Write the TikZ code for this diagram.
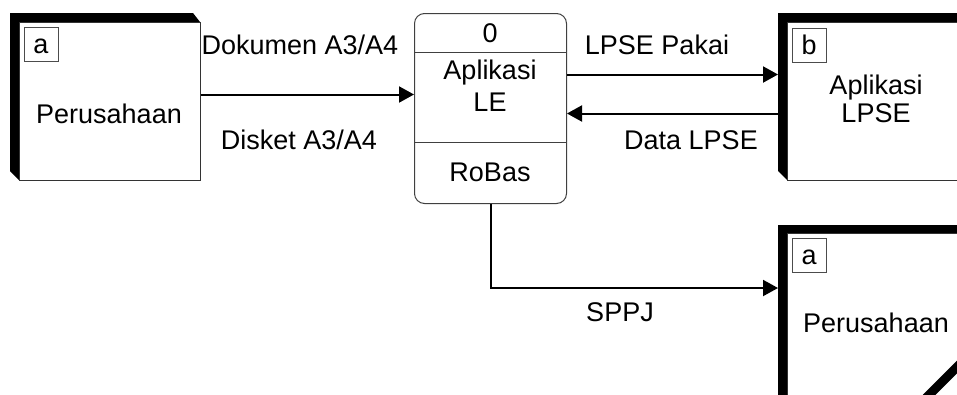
\documentclass[tikz,border=0pt]{standalone}
\usepackage{fontspec}
\setmainfont{Liberation Sans}
\usetikzlibrary{arrows.meta}
\begin{document}
\begin{tikzpicture}[x=1pt,y=-1pt,
  txt/.style={font=\fontsize{27}{30}\selectfont, inner sep=0pt, anchor=base},
  flow/.style={line width=2pt, -{Triangle[length=15pt,width=16pt]}},
  entbox/.style={draw=black!80, line width=1pt, anchor=north west, inner sep=0pt},
  tagbox/.style={draw=black!70, line width=1pt, anchor=north west, minimum width=34pt, minimum height=34pt, inner sep=0pt},
  procbox/.style={draw=black!75, line width=1pt, rounded corners=10pt, anchor=north west, minimum width=152pt, minimum height=190pt, inner sep=0pt},
  divider/.style={draw=black!75, line width=1pt}]
\useasboundingbox (0,0) rectangle (957,394);

% entity a (left)
\fill (10,13) -- (193,13) -- (200,22) -- (19,22) -- (19,180) -- (10,171) -- cycle;
\node[entbox, minimum width=181pt, minimum height=158pt] (ea) at (19,22) {};
\node[tagbox] (ta) at (24,27) {};
\node[txt] (tal) at (41,53) {a};
\node[txt] (eal) at (109,123) {Perusahaan};

% entity b (right top)
\fill (778,13) -- (960,13) -- (960,22) -- (787,22) -- (787,180) -- (778,171) -- cycle;
\node[entbox, minimum width=180pt, minimum height=158pt] (eb) at (787,22) {};
\node[tagbox] (tb) at (792,28) {};
\node[txt] (tbl) at (809,54) {b};
\node[txt] (ebl1) at (876,94.5) {Aplikasi};
\node[txt] (ebl2) at (876,122.5) {LPSE};

% entity a (duplicate, right bottom)
\fill (778,225) -- (960,225) -- (960,233) -- (787,233) -- (787,400) -- (778,400) -- cycle;
\node[entbox, minimum width=180pt, minimum height=170pt] (ec) at (787,233) {};
\node[tagbox] (tc) at (792,238) {};
\node[txt] (tcl) at (809,264) {a};
\node[txt] (ecl) at (876,332.5) {Perusahaan};
\draw[line width=9pt] (926,398) -- (962,362);

% process
\node[procbox] (p) at (414,13) {};
\draw[divider] (p.west |- 0,52) -- (p.east |- 0,52);
\draw[divider] (p.west |- 0,142) -- (p.east |- 0,142);
\node[txt] (pn) at (490,42.5) {0};
\node[txt] (pl1) at (490,79.5) {Aplikasi};
\node[txt] (pl2) at (490,111.5) {LE};
\node[txt] (pl3) at (490,181.5) {RoBas};

% flows
\draw[flow] ([yshift=7pt]ea.east) -- ([yshift=7pt]ea.east -| p.west);
\draw[flow] ([yshift=34pt]p.east) -- ([xshift=-9pt,yshift=34pt]p.east -| eb.west);
\draw[flow] ([xshift=-9pt,yshift=-5pt]p.east -| eb.west) -- ([yshift=-5pt]p.east);
\draw[flow] (p.south) |- ([xshift=-9pt,yshift=30.5pt]ec.west);

% flow labels
\node[txt] (f1) at (300,54) {Dokumen A3/A4};
\node[txt] (f2) at (299,149.5) {Disket A3/A4};
\node[txt] (f3) at (657,54.5) {LPSE Pakai};
\node[txt] (f4) at (691,149.5) {Data LPSE};
\node[txt] (f5) at (620,321.5) {SPPJ};
\end{tikzpicture}
\end{document}
